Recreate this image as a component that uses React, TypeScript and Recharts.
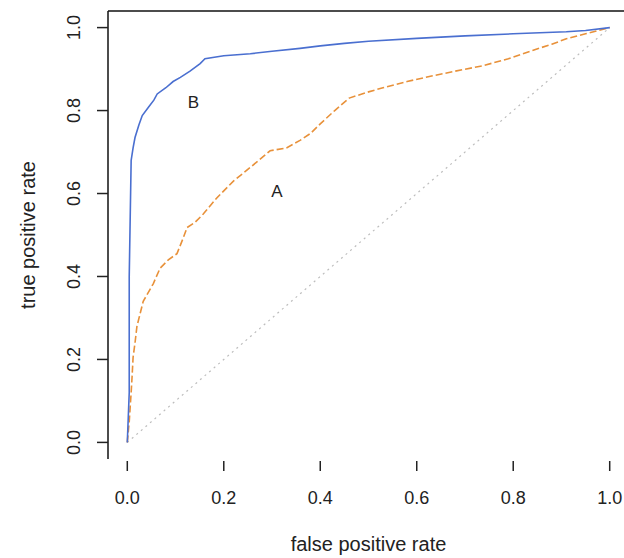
import { LineChart, Line, XAxis, YAxis, ReferenceLine, ReferenceDot } from 'recharts'

// ROC curves: false positive rate vs true positive rate
const fprB = [0, 0.004, 0.004, 0.008, 0.012, 0.016, 0.024, 0.031, 0.045, 0.055, 0.062, 0.08, 0.095, 0.11, 0.13, 0.151, 0.161, 0.2, 0.255, 0.3, 0.358, 0.4, 0.45, 0.5, 0.6, 0.7, 0.8, 0.91, 0.95, 1]
const tprB = [0, 0.12, 0.4, 0.68, 0.71, 0.735, 0.765, 0.788, 0.81, 0.825, 0.84, 0.855, 0.87, 0.88, 0.895, 0.913, 0.925, 0.932, 0.937, 0.943, 0.95, 0.956, 0.962, 0.967, 0.974, 0.98, 0.985, 0.99, 0.993, 1]

const fprA = [0, 0.004, 0.008, 0.01, 0.012, 0.016, 0.02, 0.033, 0.054, 0.068, 0.085, 0.103, 0.115, 0.124, 0.14, 0.157, 0.186, 0.22, 0.255, 0.296, 0.33, 0.358, 0.38, 0.4, 0.43, 0.46, 0.5, 0.53, 0.58, 0.634, 0.68, 0.737, 0.79, 0.84, 0.88, 0.91, 0.95, 1]
const tprA = [0, 0.05, 0.12, 0.16, 0.205, 0.24, 0.28, 0.34, 0.383, 0.42, 0.44, 0.455, 0.49, 0.518, 0.53, 0.55, 0.59, 0.63, 0.663, 0.703, 0.71, 0.728, 0.745, 0.768, 0.8, 0.83, 0.845, 0.855, 0.87, 0.884, 0.895, 0.908, 0.925, 0.945, 0.96, 0.973, 0.985, 1]

const diagonal = [0, 1]
const ticks = [0, 0.2, 0.4, 0.6, 0.8, 1]
const tickLabels = ['0.0', '0.2', '0.4', '0.6', '0.8', '1.0']

const curveLabels = [
  { name: 'B', x: 0.137, y: 0.82 },
  { name: 'A', x: 0.31, y: 0.605 },
]

const W = 640
const H = 558
const TOP = 11
const BOTTOM = 459
const LEFT = 108
const FONT = 'Liberation Sans, Arial, sans-serif'
const INK = '#222'

const toRows = (xs: number[], ys: number[]) => xs.map((x, i) => ({ x, y: ys[i] }))
const rowsA = toRows(fprA, tprA)
const rowsB = toRows(fprB, tprB)
const rowsDiag = toRows(diagonal, diagonal)

const fmt = (v: number) => tickLabels[ticks.indexOf(v)] ?? v.toFixed(1)

function XTick({ x, payload }: any) {
  return (
    <g>
      <line x1={x} x2={x} y1={BOTTOM + 2} y2={BOTTOM + 12} stroke={INK} strokeWidth={1.5} />
      <text x={x} y={BOTTOM + 45} textAnchor="middle" fontSize={18} fill={INK} fontFamily={FONT}>
        {fmt(payload.value)}
      </text>
    </g>
  )
}

function YTick({ y, payload }: any) {
  return (
    <g>
      <line x1={LEFT - 11} x2={LEFT} y1={y} y2={y} stroke={INK} strokeWidth={1.5} />
      <text
        x={80}
        y={y}
        textAnchor="middle"
        fontSize={18}
        fill={INK}
        fontFamily={FONT}
        transform={`rotate(-90 80 ${y})`}
      >
        {fmt(payload.value)}
      </text>
    </g>
  )
}

export default function App() {
  return (
    <div style={{ position: 'absolute', left: 0, top: 0, width: 624, height: 558, overflow: 'hidden', background: '#fff' }}>
      <LineChart width={W} height={H} margin={{ top: TOP, right: 11, left: 0, bottom: 0 }}>
        <XAxis
          type="number"
          dataKey="x"
          domain={[-0.04, 1.04]}
          allowDataOverflow
          ticks={ticks}
          axisLine={false}
          tickLine={false}
          tick={<XTick />}
          height={H - BOTTOM}
          label={{ value: 'false positive rate', position: 'insideBottom', offset: 7, fontSize: 20, fill: INK, fontFamily: FONT }}
        />
        <YAxis
          type="number"
          dataKey="y"
          domain={[-0.04, 1.04]}
          allowDataOverflow
          ticks={ticks}
          width={LEFT}
          axisLine={{ stroke: '#111', strokeWidth: 1.5 }}
          tickLine={false}
          tick={<YTick />}
          label={{ value: 'true positive rate', angle: -90, position: 'insideLeft', offset: 28, fontSize: 20, fill: INK, fontFamily: FONT, style: { textAnchor: 'middle' } }}
        />
        <ReferenceLine y={1.04} stroke="#111" strokeWidth={1.5} ifOverflow="visible" />
        <Line data={rowsDiag} dataKey="y" stroke="#bdbdbd" strokeWidth={1.2} strokeDasharray="2 4" dot={false} isAnimationActive={false} />
        <Line data={rowsA} dataKey="y" stroke="#e8913a" strokeWidth={1.6} strokeDasharray="7 3" dot={false} isAnimationActive={false} />
        <Line data={rowsB} dataKey="y" stroke="#4a6fd0" strokeWidth={1.6} dot={false} isAnimationActive={false} />
        {curveLabels.map((c) => (
          <ReferenceDot
            key={c.name}
            x={c.x}
            y={c.y}
            r={0}
            shape={(p: any) => (
              <text x={p.cx} y={p.cy} dy={6} textAnchor="middle" fontSize={17} fill={INK} fontFamily={FONT}>
                {c.name}
              </text>
            )}
          />
        ))}
      </LineChart>
    </div>
  )
}
